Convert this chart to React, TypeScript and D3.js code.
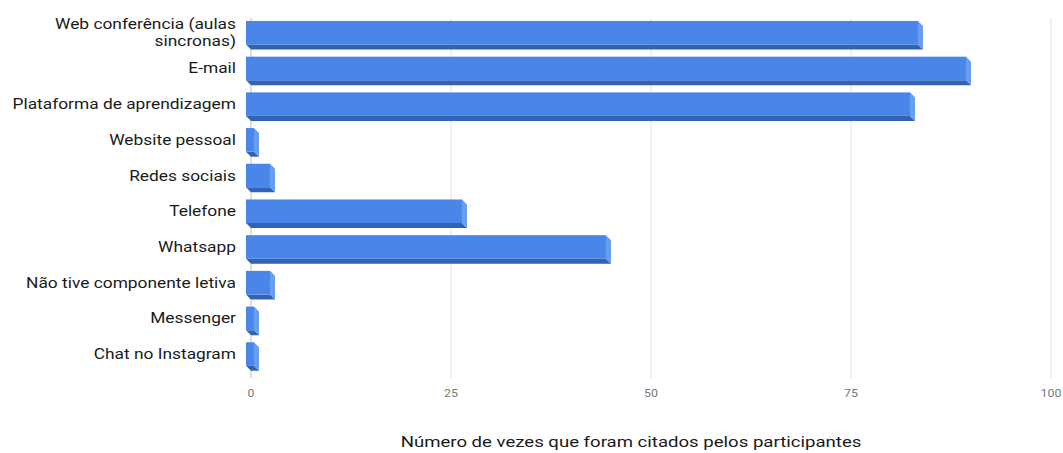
import React, { useRef, useEffect } from 'react';
import * as d3 from 'd3';

const categories = [
  'Web conferência (aulas|sincronas)',
  'E-mail',
  'Plataforma de aprendizagem',
  'Website pessoal',
  'Redes sociais',
  'Telefone',
  'Whatsapp',
  'Não tive componente letiva',
  'Messenger',
  'Chat no Instagram',
];
const values = [84, 90, 83, 1, 3, 27, 45, 3, 1, 1];
const ticks = [0, 25, 50, 75, 100];
const axisTitle = 'Número de vezes que foram citados pelos participantes';

const App = () => {
  const ref = useRef<SVGSVGElement | null>(null);

  useEffect(() => {
    if (!ref.current) return;
    const svg = d3.select(ref.current);
    svg.selectAll('*').remove();

    const width = 1063;
    const height = 453;
    const font = 'Roboto, Arial, sans-serif';
    const depth = 5;
    const stretch = 1.24; // the picture is stretched sideways

    svg.attr('width', width).attr('height', height);

    const x = d3.scaleLinear().domain([0, 100]).range([251, 1051]);
    const y = d3.scaleBand<number>()
      .domain(d3.range(categories.length))
      .range([17.4, 374.4])
      .paddingInner(0.2)
      .paddingOuter(0.1);

    const wide = (cx: number) => `translate(${cx},0) scale(${stretch},1) translate(${-cx},0)`;

    // gridlines
    svg.append('g')
      .selectAll('line')
      .data(ticks)
      .enter()
      .append('line')
      .attr('x1', d => x(d))
      .attr('x2', d => x(d))
      .attr('y1', 18)
      .attr('y2', 378)
      .attr('stroke', d => (d === 0 ? '#bdbdbd' : '#e3e3e3'))
      .attr('stroke-width', 1);

    svg.append('g')
      .selectAll('text')
      .data(ticks)
      .enter()
      .append('text')
      .attr('x', d => x(d))
      .attr('y', 397)
      .attr('text-anchor', 'middle')
      .attr('transform', d => wide(x(d)))
      .attr('font-family', font)
      .attr('font-size', 10)
      .attr('fill', '#777')
      .text(d => d);

    // 3d bars
    const bars = svg.append('g')
      .selectAll('g')
      .data(values)
      .enter()
      .append('g');

    const x0 = x(0) - depth;
    const frontH = y.bandwidth() - depth;

    bars.append('polygon')
      .attr('points', (d, i) => {
        const x1 = x(d) - depth;
        const yb = (y(i) as number) + frontH;
        return [[x0, yb], [x1, yb], [x1 + depth, yb + depth], [x0 + depth, yb + depth]].join(' ');
      })
      .attr('fill', '#3262b4');

    bars.append('polygon')
      .attr('points', (d, i) => {
        const x1 = x(d) - depth;
        const yt = y(i) as number;
        return [[x1, yt], [x1 + depth, yt + depth], [x1 + depth, yt + frontH + depth], [x1, yt + frontH]].join(' ');
      })
      .attr('fill', '#6a9cf0');

    bars.append('rect')
      .attr('x', x0)
      .attr('y', (d, i) => y(i) as number)
      .attr('width', d => x(d) - x(0))
      .attr('height', frontH)
      .attr('fill', '#4a86e8');

    // category labels
    const labels = svg.append('g')
      .attr('transform', wide(236))
      .selectAll('text')
      .data(categories)
      .enter()
      .append('text')
      .attr('text-anchor', 'end')
      .attr('font-family', font)
      .attr('font-size', 14)
      .attr('fill', '#1a1a1a');

    labels.each(function (d, i) {
      const parts = d.split('|');
      const cy = (y(i) as number) + frontH / 2;
      const t = d3.select(this);
      parts.forEach((p, k) => {
        t.append('tspan')
          .attr('x', 236)
          .attr('y', cy + 5 + (k - (parts.length - 1) / 2) * 17)
          .text(p);
      });
    });

    svg.append('text')
      .attr('x', 631)
      .attr('y', 447)
      .attr('text-anchor', 'middle')
      .attr('transform', wide(631))
      .attr('font-family', font)
      .attr('font-size', 15)
      .attr('fill', '#1a1a1a')
      .text(axisTitle);
  }, []);

  return (
    <div style={{ position: 'absolute', left: 0, top: 0 }}>
      <svg ref={ref} style={{ display: 'block' }} />
    </div>
  );
};

export default App;
